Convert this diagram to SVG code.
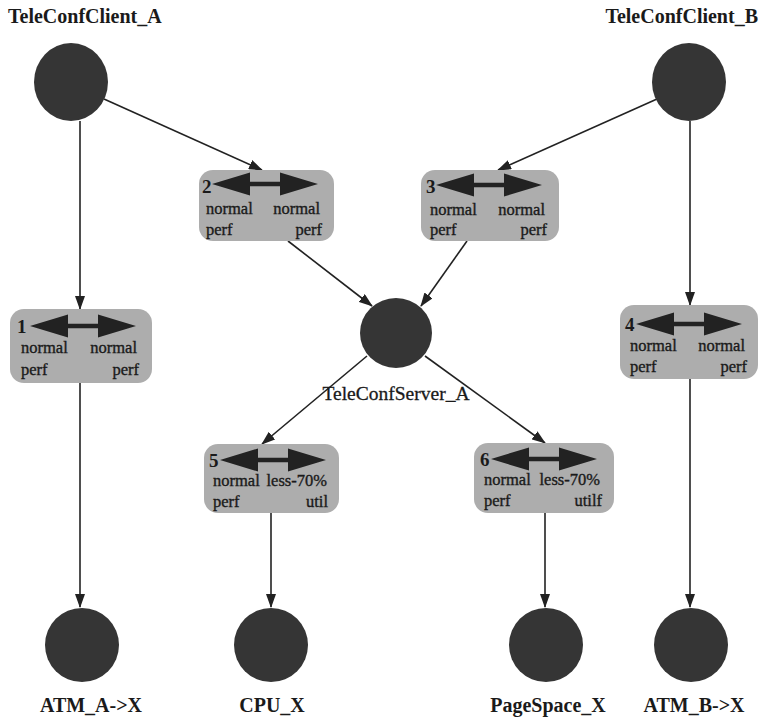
<svg xmlns="http://www.w3.org/2000/svg" width="764" height="717" viewBox="0 0 764 717">
  <style>
    .node { fill: #353535; }
    .box { fill: #adadad; }
    .title { font-family: "Liberation Serif", serif; font-weight: bold; font-size: 20px; fill: #1a1a1a; }
    .label { font-family: "Liberation Serif", serif; font-size: 19.5px; fill: #1a1a1a; stroke: #1a1a1a; stroke-width: 0.3; }
    .num { font-family: "Liberation Serif", serif; font-weight: bold; font-size: 19px; fill: #1a1a1a; }
    .cell { font-family: "Liberation Serif", serif; font-size: 16.5px; fill: #1a1a1a; stroke: #1a1a1a; stroke-width: 0.35; }
    .end { text-anchor: end; }
    .mid { text-anchor: middle; }
    .edge { stroke: #222; stroke-width: 1.6; fill: none; marker-end: url(#head); }
  </style>
  <defs>
    <marker id="head" markerWidth="14" markerHeight="10" refX="13" refY="5" orient="auto" markerUnits="userSpaceOnUse">
      <path d="M0,0 L14,5 L0,10 Z" fill="#222"/>
    </marker>
    <!-- two-headed arrow used inside each status box (origin = left tip) -->
    <path id="dbl" fill="#222" d="M0,0 L38,-11.5 L38,-2.2 L68,-2.2 L68,-11.5 L106,0 L68,11.5 L68,2.2 L38,2.2 L38,11.5 Z"/>
  </defs>

  <g id="connectors">
    <line class="edge" x1="80" y1="121" x2="80" y2="309"/>
    <line class="edge" x1="80" y1="383" x2="80" y2="607"/>
    <line class="edge" x1="104" y1="99" x2="262" y2="170"/>
    <line class="edge" x1="288" y1="241" x2="372" y2="306"/>
    <line class="edge" x1="657" y1="99" x2="498" y2="170"/>
    <line class="edge" x1="690" y1="121" x2="690" y2="305"/>
    <line class="edge" x1="467" y1="241" x2="421" y2="306"/>
    <line class="edge" x1="690" y1="379" x2="690" y2="607"/>
    <line class="edge" x1="367" y1="356" x2="262" y2="444"/>
    <line class="edge" x1="425" y1="356" x2="545" y2="443"/>
    <line class="edge" x1="271" y1="513" x2="271" y2="607"/>
    <line class="edge" x1="545" y1="513" x2="545" y2="607"/>
  </g>

  <g id="TeleConfClient_A">
    <ellipse class="node" cx="71" cy="82" rx="37" ry="39"/>
    <text class="title" x="8" y="23">TeleConfClient_A</text>
  </g>
  <g id="TeleConfClient_B">
    <ellipse class="node" cx="689" cy="82" rx="37" ry="39"/>
    <text class="title end" x="758" y="23">TeleConfClient_B</text>
  </g>
  <g id="TeleConfServer_A">
    <ellipse class="node" cx="396" cy="333" rx="36" ry="35"/>
    <text class="label mid" x="396" y="400">TeleConfServer_A</text>
  </g>

  <g id="box1">
    <rect class="box" x="10" y="309" width="142" height="74" rx="14"/>
    <text class="num" x="17" y="333">1</text>
    <use href="#dbl" x="30" y="326"/>
    <text class="cell" x="21" y="353">normal</text>
    <text class="cell end" x="137" y="353">normal</text>
    <text class="cell" x="21" y="375">perf</text>
    <text class="cell end" x="139" y="375">perf</text>
  </g>
  <g id="box2">
    <rect class="box" x="199" y="170" width="135" height="71" rx="14"/>
    <text class="num" x="202" y="193">2</text>
    <use href="#dbl" x="212" y="184"/>
    <text class="cell" x="206" y="214">normal</text>
    <text class="cell end" x="320" y="214">normal</text>
    <text class="cell" x="206" y="235">perf</text>
    <text class="cell end" x="322" y="235">perf</text>
  </g>
  <g id="box3">
    <rect class="box" x="421" y="170" width="138" height="71" rx="14"/>
    <text class="num" x="426" y="193">3</text>
    <use href="#dbl" x="436" y="185"/>
    <text class="cell" x="430" y="215">normal</text>
    <text class="cell end" x="545" y="215">normal</text>
    <text class="cell" x="430" y="235">perf</text>
    <text class="cell end" x="547" y="235">perf</text>
  </g>
  <g id="box4">
    <rect class="box" x="620" y="305" width="138" height="74" rx="14"/>
    <text class="num" x="625" y="331">4</text>
    <use href="#dbl" x="636" y="324"/>
    <text class="cell" x="630" y="351">normal</text>
    <text class="cell end" x="745" y="351">normal</text>
    <text class="cell" x="630" y="372">perf</text>
    <text class="cell end" x="747" y="372">perf</text>
  </g>
  <g id="box5">
    <rect class="box" x="204" y="444" width="135" height="69" rx="14"/>
    <text class="num" x="209" y="467">5</text>
    <use href="#dbl" x="220" y="460"/>
    <text class="cell" x="213" y="486">normal</text>
    <text class="cell end" x="327" y="486">less-70%</text>
    <text class="cell" x="213" y="507">perf</text>
    <text class="cell end" x="328" y="507">util</text>
  </g>
  <g id="box6">
    <rect class="box" x="474" y="443" width="140" height="70" rx="14"/>
    <text class="num" x="480" y="466">6</text>
    <use href="#dbl" x="491" y="459"/>
    <text class="cell" x="484" y="485">normal</text>
    <text class="cell end" x="600" y="485">less-70%</text>
    <text class="cell" x="484" y="506">perf</text>
    <text class="cell end" x="602" y="506">utilf</text>
  </g>

  <g id="ATM_A-X">
    <circle class="node" cx="82" cy="645" r="37"/>
    <text class="title mid" x="91" y="712">ATM_A-&gt;X</text>
  </g>
  <g id="CPU_X">
    <circle class="node" cx="271" cy="645" r="37"/>
    <text class="title mid" x="272" y="712">CPU_X</text>
  </g>
  <g id="PageSpace_X">
    <circle class="node" cx="546" cy="645" r="37"/>
    <text class="title mid" x="548" y="712">PageSpace_X</text>
  </g>
  <g id="ATM_B-X">
    <circle class="node" cx="691" cy="645" r="37"/>
    <text class="title mid" x="694" y="712">ATM_B-&gt;X</text>
  </g>
</svg>
